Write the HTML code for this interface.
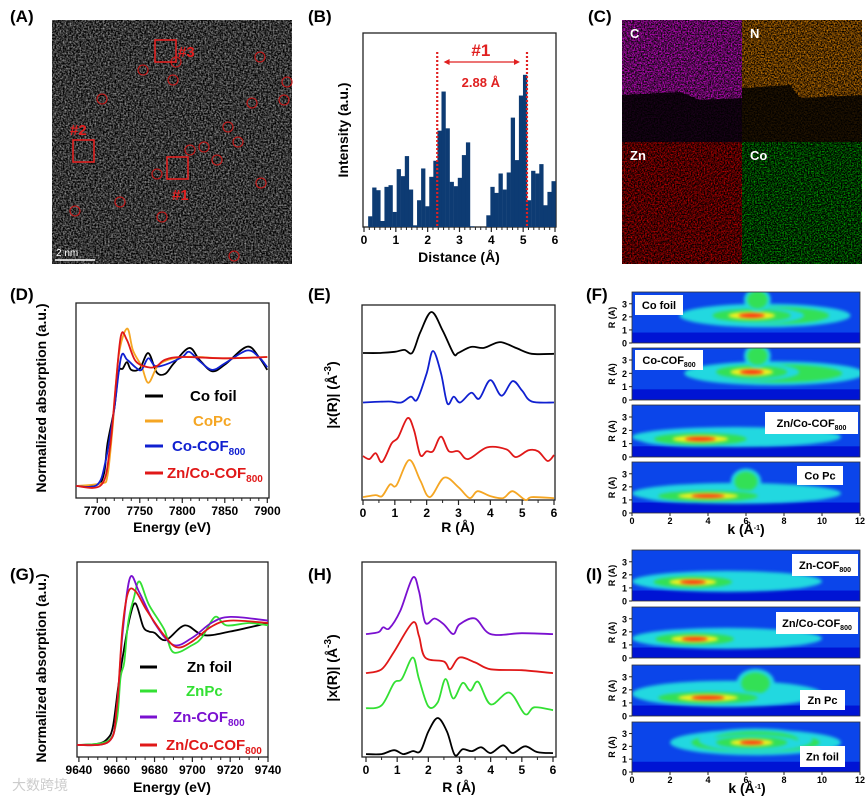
<!DOCTYPE html>
<html><head><meta charset="utf-8"><style>
html,body{margin:0;padding:0;background:#fff;}
svg{display:block;font-family:"Liberation Sans",Arial,sans-serif;font-weight:bold;}
filter{color-interpolation-filters:sRGB;}
</style></head><body>
<svg id="fig" width="867" height="798" viewBox="0 0 867 798">
<defs>
<filter id="nGray" x="0" y="0" width="1" height="1" color-interpolation-filters="sRGB"><feTurbulence type="fractalNoise" baseFrequency="0.6" numOctaves="2" seed="3"/><feColorMatrix type="matrix" values="1.1 0 0 0 -0.34 1.1 0 0 0 -0.34 1.1 0 0 0 -0.34 0 0 0 0 1"/></filter>
<filter id="nMag" x="0" y="0" width="1" height="1" color-interpolation-filters="sRGB"><feTurbulence type="fractalNoise" baseFrequency="0.7" numOctaves="2" seed="5"/><feColorMatrix type="matrix" values="1.6 0 0 0 -0.45 0 0 0 0 0.03 1.6 0 0 0 -0.45 0 0 0 0 1"/></filter>
<filter id="nOr" x="0" y="0" width="1" height="1" color-interpolation-filters="sRGB"><feTurbulence type="fractalNoise" baseFrequency="0.7" numOctaves="2" seed="7"/><feColorMatrix type="matrix" values="1.6 0 0 0 -0.45 1.0 0 0 0 -0.3 0 0 0 0 0 0 0 0 0 1"/></filter>
<filter id="nRed" x="0" y="0" width="1" height="1" color-interpolation-filters="sRGB"><feTurbulence type="fractalNoise" baseFrequency="0.7" numOctaves="2" seed="9"/><feColorMatrix type="matrix" values="1.6 0 0 0 -0.5 0 0 0 0 0 0 0 0 0 0 0 0 0 0 1"/></filter>
<filter id="nGrn" x="0" y="0" width="1" height="1" color-interpolation-filters="sRGB"><feTurbulence type="fractalNoise" baseFrequency="0.7" numOctaves="2" seed="11"/><feColorMatrix type="matrix" values="0 0 0 0 0 1.5 0 0 0 -0.55 0 0 0 0 0 0 0 0 0 1"/></filter>
<filter id="blur2" x="-20%" y="-50%" width="140%" height="200%" color-interpolation-filters="sRGB"><feGaussianBlur stdDeviation="1.5"/></filter>
</defs>
<g id="root"></g>
</svg>
<script>
// ---------- Panel B data ----------
const bIntensity = [32,118,110,18,120,125,45,173,152,212,112,5,80,175,62,150,198,288,405,295,135,122,147,215,253,2,0,0,0,35,120,102,160,112,163,327,200,393,455,80,168,160,188,65,105,137];
const bTicks = [0,1,2,3,4,5,6];
const bMarkers = [2.3, 5.12];
// ---------- Panel D data (energy eV, normalized absorption) ----------
const dTicks = [7700,7750,7800,7850,7900];
const dCoFoil = [[7675,0],[7700,0.01],[7708,0.1],[7712,0.33],[7720,0.6],[7725,0.88],[7730,0.91],[7735,0.96],[7740,0.9],[7750,0.91],[7760,1.03],[7770,0.88],[7780,0.87],[7790,0.95],[7808,1.07],[7820,0.98],[7835,0.89],[7850,0.94],[7876,1.08],[7890,1.0],[7900,0.9]];
const dCoPc = [[7675,0],[7705,0.02],[7712,0.08],[7718,0.45],[7725,1.0],[7735,1.22],[7742,1.05],[7752,0.93],[7760,0.8],[7770,0.92],[7780,0.97],[7800,1.0],[7820,1.0],[7850,0.99],[7900,1.0]];
const dCoCOF = [[7675,0],[7700,0.01],[7710,0.2],[7720,0.6],[7728,1.0],[7735,0.98],[7745,0.92],[7752,0.9],[7760,0.99],[7768,0.93],[7780,0.94],[7800,1.0],[7808,1.04],[7820,0.97],[7835,0.9],[7850,0.95],[7876,1.05],[7890,1.0],[7900,0.92]];
const dZnCoCOF = [[7675,0],[7705,0.01],[7715,0.3],[7722,0.8],[7728,1.17],[7735,1.13],[7745,0.97],[7760,0.92],[7770,0.93],[7780,0.98],[7800,1.0],[7850,0.99],[7900,1.0]];
// ---------- Panel E data (R, |x(R)|) ----------
const eTicks = [0,1,2,3,4,5,6];
const eCoFoil = [[0,7.54],[0.5,7.54],[1,7.6],[1.3,7.7],[1.55,7.55],[1.8,8.6],[2.15,9.64],[2.5,8.7],[2.85,7.5],[3.0,7.55],[3.4,7.85],[3.8,7.8],[4.3,8.1],[4.8,7.8],[5.3,7.5],[6,7.5]];
const eCoCOF = [[0,5.0],[0.8,5.05],[1.2,5.0],[1.5,5.3],[1.7,5.15],[2.0,6.5],[2.2,7.64],[2.45,6.5],[2.65,4.95],[2.85,5.3],[3.05,5.0],[3.4,5.5],[3.65,5.2],[4.0,6.15],[4.35,5.35],[4.7,6.1],[5.0,5.6],[5.3,5.05],[6,5.0]];
const eZnCoCOF = [[0,2.25],[0.2,2.1],[0.4,2.4],[0.6,1.95],[0.9,2.9],[1.1,3.2],[1.4,4.2],[1.6,3.6],[1.8,2.3],[2.0,2.5],[2.2,2.5],[2.45,3.25],[2.7,2.5],[3.0,2.5],[3.3,2.1],[3.9,2.7],[4.5,2.6],[4.8,2.2],[5.2,2.55],[5.5,2.5],[5.8,2.0],[6,2.3]];
const eCoPc = [[0,0.15],[0.4,0.25],[0.6,0.2],[0.85,0.8],[1.05,0.75],[1.45,2.05],[1.8,1.0],[2.1,0.15],[2.55,1.15],[3.0,0.65],[3.35,0.1],[3.6,0.45],[4.0,0.2],[4.4,0.1],[4.7,0.45],[5.1,0.0],[5.3,0.15],[6,0.1]];
// ---------- Panel G data ----------
const gTicks = [9640,9660,9680,9700,9720,9740];
const gZnFoil = [[9639,0],[9650,0.01],[9655,0.05],[9658,0.15],[9661,0.5],[9664,0.8],[9667,1.05],[9670,1.16],[9674,0.97],[9677,0.93],[9680,0.92],[9686,0.86],[9696,0.98],[9706,0.9],[9720,0.93],[9740,1.0]];
const gZnPc = [[9639,0],[9655,0.03],[9660,0.2],[9662,0.55],[9664,0.68],[9666,1.0],[9669,1.2],[9672,1.34],[9677,1.15],[9685,0.95],[9690,0.76],[9700,0.82],[9705,0.88],[9712,1.05],[9718,0.98],[9730,1.0],[9740,0.98]];
const gZnCOF = [[9639,0],[9656,0.03],[9660,0.3],[9663,0.9],[9667,1.37],[9672,1.25],[9680,1.0],[9690,0.82],[9700,0.88],[9710,1.0],[9720,1.05],[9740,1.02]];
const gZnCoCOF = [[9639,0],[9656,0.03],[9660,0.3],[9663,0.95],[9666,1.25],[9670,1.26],[9676,1.1],[9685,0.9],[9692,0.8],[9700,0.85],[9710,0.97],[9720,1.02],[9740,1.0]];
// ---------- Panel H data ----------
const hTicks = [0,1,2,3,4,5,6];
const hZnCOF = [[0,6.3],[0.4,6.4],[0.55,6.65],[0.75,6.6],[1.1,7.5],[1.5,9.2],[1.7,8.5],[1.9,6.9],[2.2,7.1],[2.5,6.8],[2.8,6.3],[3.0,6.8],[3.5,7.1],[4.0,6.3],[5.0,6.35],[6,6.3]];
const hZnCoCOF = [[0,4.3],[0.5,4.5],[0.9,5.4],[1.5,6.9],[1.7,6.2],[1.9,5.1],[2.5,4.9],[2.7,4.5],[3.0,5.1],[3.5,4.85],[4.0,4.5],[5,4.45],[6,4.3]];
const hZnPc = [[0,2.5],[0.5,2.65],[0.9,3.8],[1.15,4.0],[1.5,5.1],[1.7,4.0],[2.0,2.6],[2.3,2.8],[2.55,4.0],[2.8,3.0],[3.1,3.8],[3.35,3.4],[3.6,3.85],[4.0,2.7],[4.6,3.3],[5.1,2.2],[5.4,2.55],[6,2.4]];
const hZnFoil = [[0,0.15],[0.5,0.15],[0.9,0.35],[1.2,0.15],[1.5,0.3],[1.75,0.3],[2.0,1.3],[2.3,2.0],[2.6,1.3],[2.85,0.1],[3.1,0.4],[3.4,0.3],[3.7,0.5],[4.0,0.2],[4.4,0.6],[4.7,0.2],[5.1,0.55],[5.5,0.25],[6,0.2]];
// ---------- Wavelet lobes [k, R, widthK, halfHeightR, level] ----------
const wtTicksK = [0,2,4,6,8,10,12];
const wtTicksR = [0,1,2,3];
const fCoFoil = [[7,2.1,9,0.9,2],[6.3,2.1,5.5,0.65,4],[6.6,3.3,1.4,0.9,2]];
const fCoCOF = [[7.5,2.0,9.5,0.9,2],[6.3,2.1,5,0.65,4],[6.6,3.3,1.4,0.9,2]];
const fZnCoCOF = [[5.5,1.5,11,0.75,1],[3.6,1.35,6.5,0.6,4]];
const fCoPc = [[5.5,1.5,11,0.8,1],[6,2.4,1.6,1.0,2],[4,1.3,7,0.55,4]];
const iZnCOF = [[5,1.5,10,0.8,1],[3.2,1.45,5.5,0.6,4]];
const iZnCoCOF = [[5,1.5,10,0.8,1],[3.3,1.45,5.5,0.6,4]];
const iZnPc = [[5,1.7,10,1.0,1],[6.5,2.5,2,1.1,2],[4,1.4,7,0.6,4]];
const iZnFoil = [[6.5,2.3,9,1.0,2],[6.5,2.5,6,0.9,2],[6.3,2.3,5,0.6,4]];

const NS='http://www.w3.org/2000/svg';
const root=document.getElementById('root');
function el(tag,attrs,parent,text){const e=document.createElementNS(NS,tag);for(const k in attrs)e.setAttribute(k,attrs[k]);if(text!==undefined)e.textContent=text;(parent||root).appendChild(e);return e;}
function lin(d0,d1,r0,r1){return v=>r0+(v-d0)*(r1-r0)/(d1-d0);}
function smooth(p){let d=`M${p[0][0].toFixed(1)},${p[0][1].toFixed(1)}`;for(let i=0;i<p.length-1;i++){const p0=p[i-1]||p[i],p1=p[i],p2=p[i+1],p3=p[i+2]||p2;const c1x=p1[0]+(p2[0]-p0[0])/6,c1y=p1[1]+(p2[1]-p0[1])/6,c2x=p2[0]-(p3[0]-p1[0])/6,c2y=p2[1]-(p3[1]-p1[1])/6;d+=` C${c1x.toFixed(1)},${c1y.toFixed(1)} ${c2x.toFixed(1)},${c2y.toFixed(1)} ${p2[0].toFixed(1)},${p2[1].toFixed(1)}`;}return d;}

function panelLabel(t,x,y){const e=el('text',{x:x,y:y,'font-size':17,fill:'#000'},root,t);}
function box(x0,y0,x1,y1,name){const r=el('rect',{x:x0,y:y0,width:x1-x0,height:y1-y0,fill:'none',stroke:'#222','stroke-width':1.3});}
function xAxis(ticks,sx,yb,minor,fmt,name){const g=el('g',{});
  ticks.forEach(t=>{el('line',{x1:sx(t),x2:sx(t),y1:yb,y2:yb+5,stroke:'#222','stroke-width':1.2},g);el('text',{x:sx(t),y:yb+17,'font-size':12,'text-anchor':'middle'},g,fmt?fmt(t):t);});
  if(minor){for(let i=0;i<ticks.length-1;i++){const a=ticks[i],b=ticks[i+1];for(let j=1;j<minor;j++){const v=a+(b-a)*j/minor;el('line',{x1:sx(v),x2:sx(v),y1:yb,y2:yb+3,stroke:'#222','stroke-width':1},g);}}}}
function series(pts,sx,sy,color,name,w){const p=el('path',{d:smooth(pts.map(q=>[sx(q[0]),sy(q[1])])),fill:'none',stroke:color,'stroke-width':w||1.8,'stroke-linejoin':'round'});}
function yTitle(t,x,y,name,sz){const e=el('text',{x:x,y:y,'font-size':sz||14,'text-anchor':'middle',transform:`rotate(-90 ${x} ${y})`},root);e.innerHTML=t;}
function xTitle(t,x,y,name){const e=el('text',{x:x,y:y,'font-size':14,'text-anchor':'middle'},root);e.innerHTML=t;}

// ===== Panel A =====
panelLabel('(A)',10,22);
(function(){const g=el('g',{});
 el('rect',{x:52,y:20,width:240,height:244,fill:'#333',filter:'url(#nGray)'},g);
 const circ=[[143,70],[173,80],[260,57],[287,82],[284,100],[102,99],[252,103],[228,127],[204,147],[238,142],[217,160],[157,174],[261,183],[120,202],[75,211],[162,217],[234,256],[176,62],[190,150]];
 circ.forEach(c=>{const e=el('circle',{cx:c[0],cy:c[1],r:5,fill:'none',stroke:'#c81818','stroke-width':1.1},g);});
 [[155,40,'#3',178,57],[73,140,'#2',70,135],[167,157,'#1',172,200]].forEach(s=>{const r=el('rect',{x:s[0],y:s[1],width:21,height:22,fill:'none',stroke:'#e02020','stroke-width':1.6},g);el('text',{x:s[3],y:s[4],'font-size':15,fill:'#e02020'},g,s[2]);});
 el('line',{x1:55,x2:95,y1:260,y2:260,stroke:'#fff','stroke-width':1.5},g);
 el('text',{x:56,y:256,'font-size':10,fill:'#fff','font-weight':'normal'},g,'2 nm');
})();

// ===== Panel B =====
panelLabel('(B)',308,22);
const bx=lin(0,6,364,555), by=lin(0,580,227,33);
box(363,33,556,227,'plot-frame-b');
(function(){const g=el('g',{});
 const w=0.128;bIntensity.forEach((v,i)=>{const x0=0.13+i*w;const r=el('rect',{x:bx(x0),y:by(v),width:bx(x0+w)-bx(x0)+0.2,height:by(0)-by(v),fill:'#0d3b73'},g);});})();
bMarkers.forEach((m,i)=>{const l=el('line',{x1:bx(m),x2:bx(m),y1:52,y2:227,stroke:'#e02020','stroke-width':2.2,'stroke-dasharray':'2 2'});});
(function(){const g=el('g',{});
 el('line',{x1:bx(2.55),x2:bx(4.85),y1:62,y2:62,stroke:'#e02020','stroke-width':1.3},g);
 el('path',{d:`M${bx(2.5)},62 l6,-3 v6 z M${bx(4.9)},62 l-6,-3 v6 z`,fill:'#e02020'},g);
 el('text',{x:bx(3.67),y:56,'font-size':17,fill:'#e02020','text-anchor':'middle'},g,'#1');
 el('text',{x:bx(3.67),y:87,'font-size':13,fill:'#e02020','text-anchor':'middle'},g,'2.88 Å');})();
xAxis(bTicks,bx,227,6,null,'x-axis-b');
xTitle('Distance (Å)',459,262,'x-axis-title-b');
yTitle('Intensity (a.u.)',348,130,'y-axis-title-b');

// ===== Panel C =====
panelLabel('(C)',588,22);
(function(){const g=el('g',{});
 const m=[[622,20,'nMag','C'],[742,20,'nOr','N'],[622,142,'nRed','Zn'],[742,142,'nGrn','Co']];
 m.forEach(q=>{const r=el('rect',{x:q[0],y:q[1],width:120,height:122,fill:'#000',filter:`url(#${q[2]})`},g);el('text',{x:q[0]+8,y:q[1]+18,'font-size':13,fill:'#fff'},g,q[3]);});
 el('path',{d:'M622,95 L680,92 L700,100 L742,98 L742,142 L622,142 Z',fill:'#000',opacity:0.85},g);
 el('path',{d:'M742,88 L790,85 L800,98 L862,95 L862,142 L742,142 Z',fill:'#000',opacity:0.8},g);
})();

// ===== Panel D =====
panelLabel('(D)',10,300);
const dx=lin(7675,7902,76,269), dy=lin(0,1,486,357);
box(76,303,269,498,'plot-frame-d');
series(dCoFoil,dx,dy,'#000','line-co-foil');
series(dCoPc,dx,dy,'#f5a623','line-copc');
series(dCoCOF,dx,dy,'#1020d0','line-co-cof800');
series(dZnCoCOF,dx,dy,'#e01818','line-zn-co-cof800');
xAxis(dTicks,dx,498,5,null,'x-axis-d');
xTitle('Energy (eV)',172,532,'x-axis-title-d');
yTitle('Normalized absorption (a.u.)',46,398,'y-axis-title-d');
function legend(items,x1,x2,name){const g=el('g',{});
 items.forEach(it=>{const e=el('g',{},g);el('line',{x1:x1,x2:x2,y1:it[1],y2:it[1],stroke:it[2],'stroke-width':3},e);const t=el('text',{x:it[3],y:it[1]+5,'font-size':15,fill:it[4]},e);t.innerHTML=it[0];});}
legend([['Co foil',396,'#000',190,'#000'],['CoPc',421,'#f5a623',193,'#f5a623'],['Co-COF<tspan font-size="10" dy="4">800</tspan>',446,'#1020d0',172,'#1020d0'],['Zn/Co-COF<tspan font-size="10" dy="4">800</tspan>',473,'#e01818',167,'#e01818']],145,163,'legend-d');

// ===== Panel E =====
panelLabel('(E)',308,300);
const ex=lin(0,6,363,554), ey=lin(0,10,500,305);
box(362,305,555,500,'plot-frame-e');
series(eCoFoil,ex,ey,'#000','line-e-co-foil');
series(eCoCOF,ex,ey,'#1020d0','line-e-co-cof800');
series(eZnCoCOF,ex,ey,'#e01818','line-e-zn-co-cof800');
series(eCoPc,ex,ey,'#f5a623','line-e-copc');
xAxis(eTicks,ex,500,2,null,'x-axis-e');
xTitle('R (Å)',458,532,'x-axis-title-e');
yTitle('|x(R)| (Å<tspan font-size="10" dy="-6">-3</tspan><tspan dy="6">)</tspan>',337,395,'y-axis-title-e');

// ===== Wavelet panels =====
const wColors=['#22d8e0','#33e055','#f2f020','#ff2a10'];
const wScale=[1,0.75,0.45,0.25];
function wavelet(x0,y0,x1,y1,lobes,label,lx,ly,lw,lh,name,showK){
 const g=el('g',{});
 const kx=lin(0,12,x0,x1), ry=lin(0,3.9,y1,y0);
 const cid='clip-'+name;const cp=el('clipPath',{id:cid},g);el('rect',{x:x0,y:y0,width:x1-x0,height:y1-y0},cp);
 const gi=el('g',{'clip-path':`url(#${cid})`},g);
 el('rect',{x:x0,y:y0,width:x1-x0,height:y1-y0,fill:'#0b45ea'},gi);
 el('rect',{x:x0,y:ry(0.8),width:x1-x0,height:y1-ry(0.8),fill:'#0014d4'},gi);
 const gb=el('g',{filter:'url(#blur2)'},gi);
 lobes.forEach(L=>{for(let i=0;i<L[4];i++){const s=wScale[i];el('ellipse',{cx:kx(L[0]),cy:ry(L[1]),rx:(kx(L[2])-kx(0))/2*s,ry:(ry(0)-ry(L[3]))*s,fill:wColors[i]},gb);}});
 el('rect',{x:x0,y:y0,width:x1-x0,height:y1-y0,fill:'none',stroke:'#333','stroke-width':0.8},g);
 wtTicksR.forEach(r=>{el('line',{x1:x0-3,x2:x0,y1:ry(r),y2:ry(r),stroke:'#222'},g);el('text',{x:x0-5,y:ry(r)+3.5,'font-size':9,'text-anchor':'end'},g,r);});
 el('text',{x:x0-17,y:(y0+y1)/2,'font-size':9,'text-anchor':'middle',transform:`rotate(-90 ${x0-17} ${(y0+y1)/2})`},g,'R (A)');
 const lb=el('rect',{x:lx,y:ly,width:lw,height:lh,fill:'#fff'},g);
 const t=el('text',{x:lx+lw/2,y:ly+lh/2+4,'font-size':11,'text-anchor':'middle'},g);t.innerHTML=label;
 if(showK){wtTicksK.forEach(k=>{el('line',{x1:kx(k),x2:kx(k),y1:y1,y2:y1+3,stroke:'#222'},g);el('text',{x:kx(k),y:y1+11,'font-size':9,'text-anchor':'middle'},g,k);});}
}
const sub='<tspan font-size="7" dy="3">800</tspan>';
panelLabel('(F)',586,300);
wavelet(632,292,860,343,fCoFoil,'Co foil',635,295,48,20,'wavelet-co-foil',false);
wavelet(632,348,860,400,fCoCOF,'Co-COF'+sub,635,350,68,20,'wavelet-co-cof800',false);
wavelet(632,405,860,457,fZnCoCOF,'Zn/Co-COF'+sub,765,412,93,22,'wavelet-zn-co-cof800',false);
wavelet(632,462,860,513,fCoPc,'Co Pc',797,466,46,19,'wavelet-copc',true);
xTitle('k (Å<tspan font-size="7" dy="-4">-1</tspan><tspan dy="4">)</tspan>',746,534,'x-axis-title-f');
panelLabel('(I)',586,580);
wavelet(632,550,860,601,iZnCOF,'Zn-COF'+sub,792,554,66,22,'wavelet-zn-cof800',false);
wavelet(632,607,860,658,iZnCoCOF,'Zn/Co-COF'+sub,776,612,82,22,'wavelet-i-zn-co-cof800',false);
wavelet(632,665,860,716,iZnPc,'Zn Pc',800,690,45,20,'wavelet-znpc',false);
wavelet(632,722,860,772,iZnFoil,'Zn foil',800,746,45,21,'wavelet-zn-foil',true);
xTitle('k (Å<tspan font-size="7" dy="-4">-1</tspan><tspan dy="4">)</tspan>',747,793,'x-axis-title-i');

// ===== Panel G =====
panelLabel('(G)',10,580);
const gx=lin(9639,9740,77,268), gy=lin(0,1,745,623);
box(77,562,268,757,'plot-frame-g');
series(gZnFoil,gx,gy,'#000','line-zn-foil');
series(gZnPc,gx,gy,'#33e033','line-znpc');
series(gZnCOF,gx,gy,'#7a10d0','line-zn-cof800');
series(gZnCoCOF,gx,gy,'#e01818','line-g-zn-co-cof800');
xAxis(gTicks,gx,757,4,null,'x-axis-g');
xTitle('Energy (eV)',172,792,'x-axis-title-g');
yTitle('Normalized absorption (a.u.)',46,668,'y-axis-title-g');
legend([['Zn foil',667,'#000',187,'#000'],['ZnPc',691,'#33e033',186,'#33e033'],['Zn-COF<tspan font-size="10" dy="4">800</tspan>',717,'#7a10d0',173,'#7a10d0'],['Zn/Co-COF<tspan font-size="10" dy="4">800</tspan>',745,'#e01818',166,'#e01818']],140,157,'legend-g');
el('text',{x:12,y:790,'font-size':14,fill:'#ccc','font-weight':'normal'},root,'大数跨境');

// ===== Panel H =====
panelLabel('(H)',308,580);
const hx=lin(0,6,366,553), hy=lin(0,10,757,562);
box(362,562,556,757,'plot-frame-h');
series(hZnCOF,hx,hy,'#7a10d0','line-h-zn-cof800');
series(hZnCoCOF,hx,hy,'#e01818','line-h-zn-co-cof800');
series(hZnPc,hx,hy,'#33e033','line-h-znpc');
series(hZnFoil,hx,hy,'#000','line-h-zn-foil');
xAxis(hTicks,hx,757,2,null,'x-axis-h');
xTitle('R (Å)',459,792,'x-axis-title-h');
yTitle('|x(R)| (Å<tspan font-size="10" dy="-6">-3</tspan><tspan dy="6">)</tspan>',337,668,'y-axis-title-h');
</script>
</body></html>
